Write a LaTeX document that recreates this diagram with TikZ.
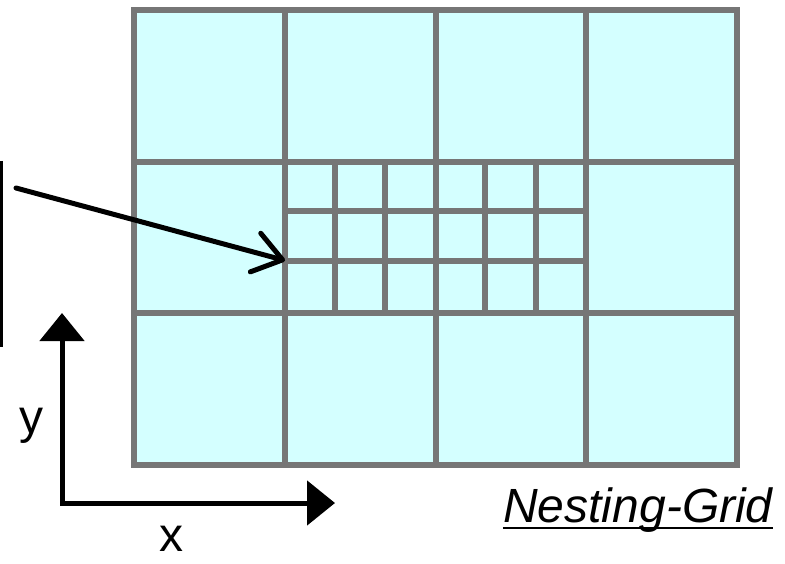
\documentclass[tikz,border=0pt]{standalone}
\usepackage{fontspec}
\setmainfont{Liberation Sans}
\usetikzlibrary{arrows.meta}
\definecolor{gridgray}{RGB}{118,118,118}
\definecolor{cellcyan}{RGB}{212,255,255}
\begin{document}
\begin{tikzpicture}[x=0.5pt,y=0.5pt,
        gridline/.style={line width=3pt,draw=gridgray},
        axis/.style={line width=2.5pt,{Triangle[length=14pt,width=22pt]}-{Triangle[length=14pt,width=22pt]}},
        pointer/.style={line width=2.5pt,line cap=round,-{Straight Barb[length=14pt,width=20pt,round]}},
        axislabel/.style={font=\fontsize{24}{28}\selectfont,inner sep=0pt,anchor=base}]
\useasboundingbox (0,0) rectangle (785,563);

% coarse grid with the refined patch in the middle row
\fill[cellcyan] (134,98) rectangle (737,553);
\foreach \x in {335,385,485,536}
    \draw[gridline] (\x,250) -- (\x,401);
\foreach \y in {302.5,352.5}
    \draw[gridline] (285,\y) -- (586,\y);
\foreach \x in {285,436,586}
    \draw[gridline] (\x,98) -- (\x,553);
\foreach \y in {250,401}
    \draw[gridline] (134,\y) -- (737,\y);
\draw[gridline] (134,98) rectangle (737,553);

% bracket edge and pointer into the fine grid
\coordinate (edgetop) at (1.5,402);
\coordinate (edgebot) at (1.5,216);
\draw[line width=1.5pt] (edgetop) -- (edgebot);
\coordinate (src) at (16,375);
\coordinate (fine) at (285,302.5);
\draw[pointer] (src) -- (fine);

% axes
\coordinate (origin) at (62,60);
\coordinate (ytip) at (62,250);
\coordinate (xtip) at (335,60);
\draw[axis] (ytip) -- (origin) -- (xtip);
\node[axislabel] (ylab) at (31,130) {y};
\node[axislabel] (xlab) at (171,12) {x};

\node[axislabel] (title) at (638,41) {\itshape Nesting-Grid};
\draw[line width=1.4pt] ([yshift=-3pt]title.base west) -- ([yshift=-3pt]title.base east);
\end{tikzpicture}
\end{document}
